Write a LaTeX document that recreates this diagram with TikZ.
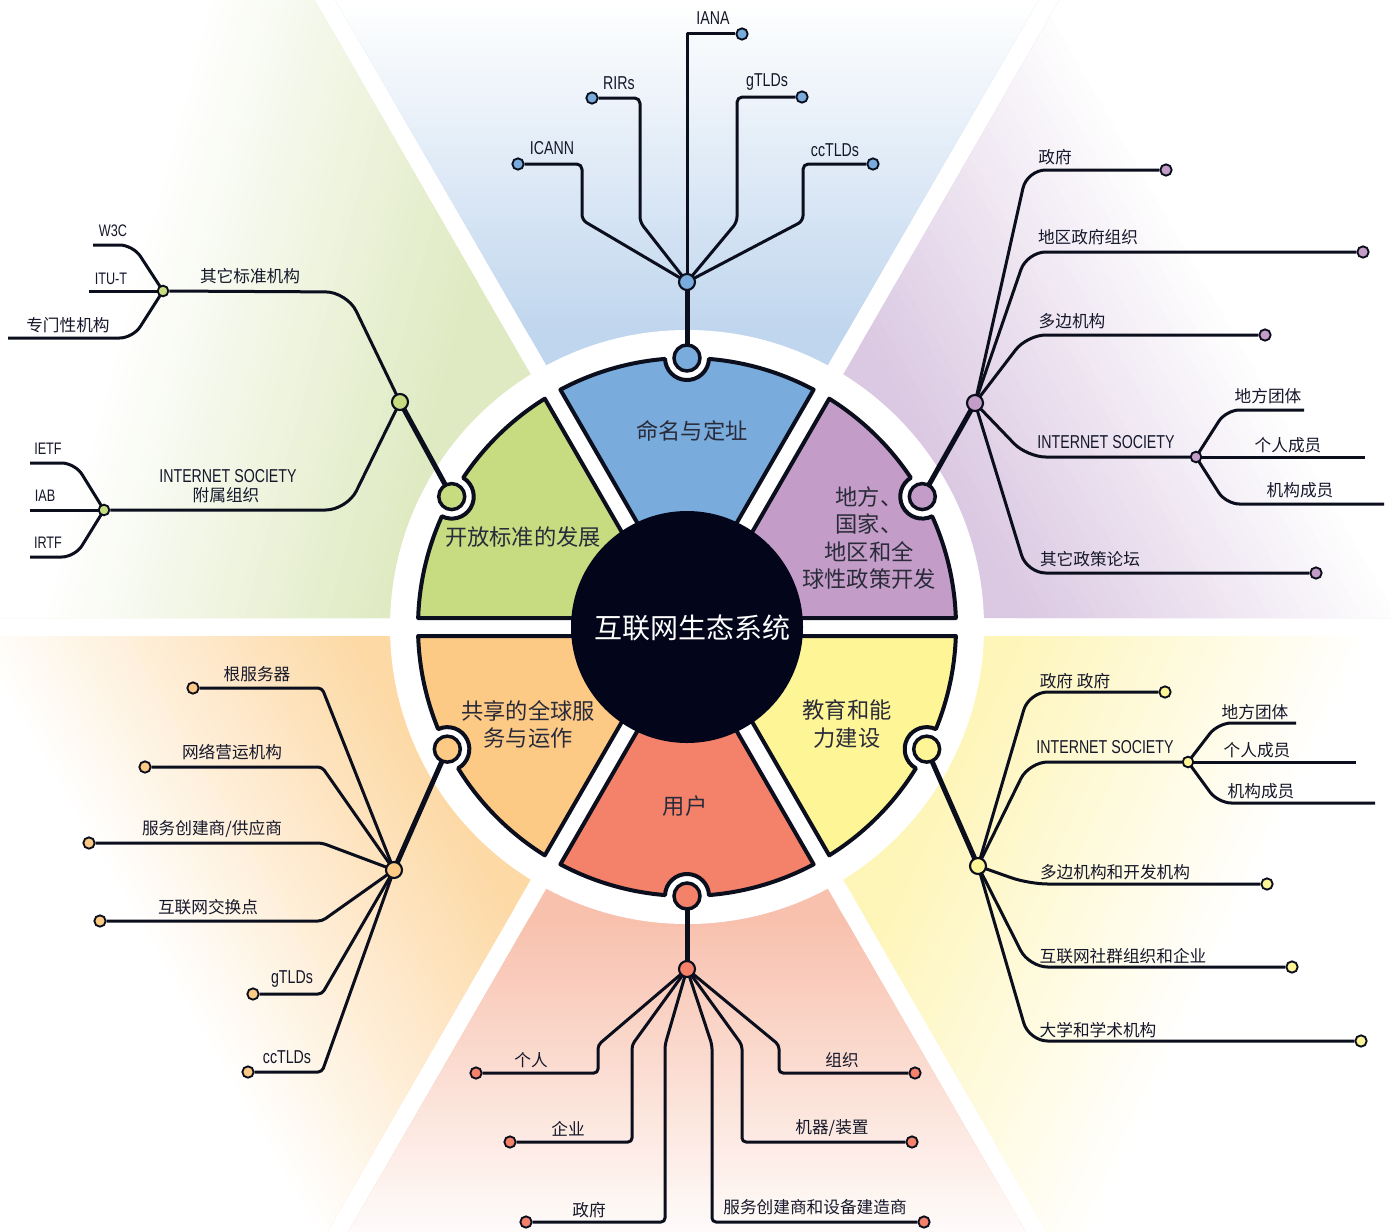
\documentclass[tikz,border=0pt]{standalone}
\usepackage{fontspec}
\newfontfamily\cjk{Noto Sans CJK SC}
\newfontfamily\narrow[FakeStretch=0.76]{Liberation Sans}
\usetikzlibrary{calc}
\definecolor{ink}{HTML}{0B0E1C}
\definecolor{core}{HTML}{03061A}
\definecolor{txt}{HTML}{15172A}
\definecolor{segtxt}{HTML}{2A2B3A}
\definecolor{blueseg}{HTML}{79ACDC}
\definecolor{purpleseg}{HTML}{C39DC7}
\definecolor{greenseg}{HTML}{C7DC80}
\definecolor{orangeseg}{HTML}{FDCA86}
\definecolor{redseg}{HTML}{F4826B}
\definecolor{yellowseg}{HTML}{FEF597}
\definecolor{bgblue}{HTML}{C0D6EE}
\definecolor{bgpurple}{HTML}{DBC8E2}
\definecolor{bggreen}{HTML}{DFEAC2}
\definecolor{bgorange}{HTML}{FDD9A6}
\definecolor{bgred}{HTML}{F8C1AE}
\definecolor{bgyellow}{HTML}{FEF5B8}
\pgfdeclarelayer{back}
\pgfdeclarelayer{lines}
\pgfsetlayers{back,lines,main}
\tikzset{
 br/.style={draw=ink, line width=2.25pt, line join=round},
 stem/.style={draw=ink, line width=3.75pt},
 dot/.style={circle, draw=ink, line width=1.4pt, inner sep=0pt, minimum size=8.5pt},
 hubdot/.style={dot, minimum size=12pt, line width=1.6pt},
 subhub/.style={dot, minimum size=8pt},
 knob/.style={circle, draw=ink, line width=2.6pt, inner sep=0pt, minimum size=19.5pt},
 lab/.style={font=\cjk\fontsize{12.5}{15}\selectfont, text=txt, inner sep=0pt},
 llab/.style={font=\narrow\fontsize{14}{16}\selectfont, text=txt, inner sep=0pt},
 slab/.style={font=\narrow\fontsize{12.5}{14}\selectfont, text=txt, inner sep=0pt},
 seglab/.style={font=\cjk\fontsize{16.7}{20.3}\selectfont, text=segtxt, align=center, inner sep=0pt},
}
\newcommand\wheelseg[4]{%
  \filldraw[fill=#4, draw=ink, line width=3pt, line join=round]
   ({#1+30}:18) -- ({#1+1.917}:269)
   arc[start angle={#1+1.917}, end angle={#3-4.687}, radius=269]
   arc[start angle={#3+267.66}, end angle={#3+92.34}, radius=22]
   arc[start angle={#3+4.687}, end angle={#2-1.917}, radius=269]
   -- cycle;}
% #1 a1, #2 a2, #3 colour, #4 gradient direction
\newcommand\bgsector[4]{%
 \begin{scope}
  \clip ({#1+30}:18) -- ($({#1}:1600)+({#1+90}:9)$) -- ($({#2}:1600)+({#2-90}:9)$) -- cycle;
  \fill[#3] (0,0) circle[radius=1400];
  \foreach \i in {0,...,33} {
    \pgfmathsetmacro\pa{290+\i*10}
    \pgfmathsetmacro\pb{\pa+10.6}
    \pgfmathsetmacro\pc{100-\i*100/33}
    \fill[#3!\pc!white] ($(#4:\pa)+({#4+90}:1100)$) -- ($(#4:\pa)+({#4-90}:1100)$)
      -- ($(#4:\pb)+({#4-90}:1100)$) -- ($(#4:\pb)+({#4+90}:1100)$) -- cycle;
  }
  \fill[white] ($(#4:630)+({#4+90}:1100)$) -- ($(#4:630)+({#4-90}:1100)$)
      -- ($(#4:2000)+({#4-90}:1100)$) -- ($(#4:2000)+({#4+90}:1100)$) -- cycle;
 \end{scope}}
\begin{document}
\begin{tikzpicture}[x=0.75pt, y=-0.75pt]
\begin{pgfonlayer}{back}
\fill[white] (0,0) rectangle (1391,1231);
\end{pgfonlayer}
\useasboundingbox (0,0) rectangle (1391,1231);
\begin{scope}[shift={(687,627)}, x=0.75pt, y=0.75pt]
 \begin{pgfonlayer}{back}
  \begin{scope}
  \clip (-687,-604) rectangle (704,627);
  \bgsector{0}{60}{bgpurple}{30}
  \bgsector{60}{120}{bgblue}{90}
  \bgsector{120}{180}{bggreen}{165}
  \bgsector{180}{240}{bgorange}{210}
  \bgsector{240}{300}{bgred}{270}
  \bgsector{300}{360}{bgyellow}{335}
  \end{scope}
  \fill[white] (0,0) circle[radius=297];
  \wheelseg{0}{60}{29}{purpleseg}
  \wheelseg{60}{120}{90}{blueseg}
  \wheelseg{120}{180}{151}{greenseg}
  \wheelseg{180}{240}{207}{orangeseg}
  \wheelseg{240}{300}{270}{redseg}
  \wheelseg{300}{360}{333}{yellowseg}
  \fill[core] (0,0) circle[radius=116];
 \end{pgfonlayer}
 \node[knob, fill=purpleseg] (pk) at (29:269) {};
 \node[knob, fill=blueseg] (bk) at (90:269) {};
 \node[knob, fill=greenseg] (gk) at (151:269) {};
 \node[knob, fill=orangeseg] (ok) at (207:269) {};
 \node[knob, fill=redseg] (rk) at (270:269) {};
 \node[knob, fill=yellowseg] (yk) at (333:269) {};
\end{scope}

% segment labels
\node[font=\cjk\fontsize{21}{24}\selectfont, text=white, inner sep=0pt] (title) at (692,628) {互联网生态系统};
\node[seglab] (sb) at (692,431) {命名与定址};
\node[seglab] (sg) at (523,537) {开放标准的发展};
\node[seglab] (sp) at (869,538) {地方、\\国家、\\地区和全\\球性政策开发};
\node[seglab] (so) at (528,724) {共享的全球服\\务与运作};
\node[seglab] (sy) at (847,724) {教育和能\\力建设};
\node[seglab] (sr) at (685,806) {用户};

% ---------- blue ----------
\node[hubdot, fill=blueseg] (bh) at (687,282) {};
\node[dot, fill=blueseg] (b1) at (742,34) {};
\node[dot, fill=blueseg] (b2) at (592,98) {};
\node[dot, fill=blueseg] (b3) at (518,164) {};
\node[dot, fill=blueseg] (b4) at (802,97) {};
\node[dot, fill=blueseg] (b5) at (873,164) {};
\node[llab] (lb1) at (713,18) {IANA};
\node[llab] (lb2) at (619,83) {RIRs};
\node[llab] (lb3) at (552,148) {ICANN};
\node[llab] (lb4) at (767,82) {gTLDs};
\node[llab] (lb5) at (835,150) {ccTLDs};

% ---------- green ----------
\node[hubdot, fill=greenseg] (gh) at (400,402) {};
\node[subhub, fill=greenseg] (gs1) at (163,291) {};
\node[subhub, fill=greenseg] (gs2) at (104,510) {};
\coordinate (gw) at (93,245);
\coordinate (gi) at (89,291);
\coordinate (gz) at (8,338);
\coordinate (ge) at (30,463);
\coordinate (ga) at (30,510);
\coordinate (gr) at (30,557);
\node[slab] (lg1) at (113,231) {W3C};
\node[slab] (lg2) at (111,279) {ITU-T};
\node[lab] (lg3) at (68,325) {专门性机构};
\node[lab] (lg4) at (250,276) {其它标准机构};
\node[llab] (lg5) at (228,476) {INTERNET SOCIETY};
\node[lab] (lg6) at (226,495) {附属组织};
\node[slab] (lg7) at (48,449) {IETF};
\node[slab] (lg8) at (45,496) {IAB};
\node[slab] (lg9) at (48,543) {IRTF};

% ---------- purple ----------
\node[hubdot, fill=purpleseg] (ph) at (975,403) {};
\node[dot, fill=purpleseg] (p1) at (1166,170) {};
\node[dot, fill=purpleseg] (p2) at (1363,252) {};
\node[dot, fill=purpleseg] (p3) at (1265,335) {};
\node[subhub, fill=purpleseg] (ps) at (1196,457) {};
\node[dot, fill=purpleseg] (p5) at (1316,573) {};
\coordinate (pa) at (1304,410);
\coordinate (pb) at (1365,457);
\coordinate (pc) at (1384,504);
\node[lab] (lp1) at (1055,157) {政府};
\node[lab] (lp2) at (1088,237) {地区政府组织};
\node[lab] (lp3) at (1072,321) {多边机构};
\node[llab] (lp4) at (1106,442) {INTERNET SOCIETY};
\node[lab] (lp5) at (1268,396) {地方团体};
\node[lab] (lp6) at (1288,445) {个人成员};
\node[lab] (lp7) at (1300,490) {机构成员};
\node[lab] (lp8) at (1090,559) {其它政策论坛};

% ---------- yellow ----------
\node[hubdot, fill=yellowseg] (yh) at (978,866) {};
\node[dot, fill=yellowseg] (y1) at (1165,692) {};
\node[subhub, fill=yellowseg] (ys) at (1188,762) {};
\node[dot, fill=yellowseg] (y3) at (1267,884) {};
\node[dot, fill=yellowseg] (y4) at (1292,967) {};
\node[dot, fill=yellowseg] (y5) at (1361,1041) {};
\coordinate (ya) at (1296,723);
\coordinate (yb) at (1356,762);
\coordinate (yc) at (1375,803);
\node[lab] (ly1) at (1075,681) {政府 政府};
\node[llab] (ly2) at (1105,747) {INTERNET SOCIETY};
\node[lab] (ly3) at (1255,712) {地方团体};
\node[lab] (ly4) at (1257,750) {个人成员};
\node[lab] (ly5) at (1261,791) {机构成员};
\node[lab] (ly6) at (1115,872) {多边机构和开发机构};
\node[lab] (ly7) at (1123,956) {互联网社群组织和企业};
\node[lab] (ly8) at (1098,1030) {大学和学术机构};

% ---------- red ----------
\node[hubdot, fill=redseg] (rh) at (687,969) {};
\node[dot, fill=redseg] (r1) at (476,1073) {};
\node[dot, fill=redseg] (r2) at (510,1142) {};
\node[dot, fill=redseg] (r3) at (526,1222) {};
\node[dot, fill=redseg] (r4) at (924,1222) {};
\node[dot, fill=redseg] (r5) at (912,1142) {};
\node[dot, fill=redseg] (r6) at (915,1073) {};
\node[lab] (lr1) at (531,1060) {个人};
\node[lab] (lr2) at (568,1129) {企业};
\node[lab] (lr3) at (589,1210) {政府};
\node[lab] (lr4) at (815,1207) {服务创建商和设备建造商};
\node[lab] (lr5) at (832,1128) {机器/装置};
\node[lab] (lr6) at (842,1060) {组织};

% ---------- orange ----------
\node[hubdot, fill=orangeseg] (oh) at (394,870) {};
\node[dot, fill=orangeseg] (o1) at (193,688) {};
\node[dot, fill=orangeseg] (o2) at (145,767) {};
\node[dot, fill=orangeseg] (o3) at (89,843) {};
\node[dot, fill=orangeseg] (o4) at (100,921) {};
\node[dot, fill=orangeseg] (o5) at (253,994) {};
\node[dot, fill=orangeseg] (o6) at (248,1072) {};
\node[lab] (lo1) at (257,674) {根服务器};
\node[lab] (lo2) at (232,752) {网络营运机构};
\node[lab] (lo3) at (212,829) {服务创建商/供应商};
\node[lab] (lo4) at (208,907) {互联网交换点};
\node[llab] (lo5) at (292,979) {gTLDs};
\node[llab] (lo6) at (287,1057) {ccTLDs};

\begin{pgfonlayer}{lines}
 % stems
 \draw[stem] (bk.center) -- (bh.center);
 \draw[stem] (gk.center) -- (gh.center);
 \draw[stem] (pk.center) -- (ph.center);
 \draw[stem] (ok.center) -- (oh.center);
 \draw[stem] (rk.center) -- (rh.center);
 \draw[stem] (yk.center) -- (yh.center);
 % blue
 \draw[br] (bh.center) -- (687,34) -- (b1);
 \draw[br, rounded corners=4] (bh.center) -- (640,222) -- (640,98) -- (b2);
 \draw[br, rounded corners=4] (bh.center) -- (582,220) -- (582,164) -- (b3);
 \draw[br, rounded corners=4] (bh.center) -- (737,222) -- (737,97) -- (b4);
 \draw[br, rounded corners=4] (bh.center) -- (803,221) -- (803,164) -- (b5);
 % green
 \draw[br, rounded corners=16] (gh.center) -- (347,292) -- (gs1);
 \draw[br, rounded corners=16] (gh.center) -- (347,510) -- (gs2);
 \draw[br, rounded corners=10] (gs1.center) -- (133,245) -- (gw);
 \draw[br] (gs1.center) -- (gi);
 \draw[br, rounded corners=10] (gs1.center) -- (133,338) -- (gz);
 \draw[br, rounded corners=10] (gs2.center) -- (75,463) -- (ge);
 \draw[br] (gs2.center) -- (ga);
 \draw[br, rounded corners=10] (gs2.center) -- (75,557) -- (gr);
 % purple
 \draw[br, rounded corners=14] (ph.center) -- (1027,170) -- (p1);
 \draw[br, rounded corners=14] (ph.center) -- (1027,252) -- (p2);
 \draw[br, rounded corners=14] (ph.center) -- (1027,335) -- (p3);
 \draw[br, rounded corners=14] (ph.center) -- (1027,457) -- (ps);
 \draw[br, rounded corners=14] (ph.center) -- (1027,573) -- (p5);
 \draw[br, rounded corners=10] (ps.center) -- (1226,410) -- (pa);
 \draw[br] (ps.center) -- (pb);
 \draw[br, rounded corners=10] (ps.center) -- (1226,504) -- (pc);
 % yellow
 \draw[br, rounded corners=14] (yh.center) -- (1029,692) -- (y1);
 \draw[br, rounded corners=14] (yh.center) -- (1029,762) -- (ys);
 \draw[br, rounded corners=14] (yh.center) -- (1029,884) -- (y3);
 \draw[br, rounded corners=14] (yh.center) -- (1029,967) -- (y4);
 \draw[br, rounded corners=14] (yh.center) -- (1029,1041) -- (y5);
 \draw[br, rounded corners=10] (ys.center) -- (1218,723) -- (ya);
 \draw[br] (ys.center) -- (yb);
 \draw[br, rounded corners=10] (ys.center) -- (1218,803) -- (yc);
 % red
 \draw[br, rounded corners=3] (rh.center) -- (598,1045) -- (598,1073) -- (r1);
 \draw[br, rounded corners=3] (rh.center) -- (632,1045) -- (632,1142) -- (r2);
 \draw[br, rounded corners=3] (rh.center) -- (665,1045) -- (665,1222) -- (r3);
 \draw[br, rounded corners=3] (rh.center) -- (712,1045) -- (712,1222) -- (r4);
 \draw[br, rounded corners=3] (rh.center) -- (742,1045) -- (742,1142) -- (r5);
 \draw[br, rounded corners=3] (rh.center) -- (779,1045) -- (779,1073) -- (r6);
 % orange
 \draw[br, rounded corners=3] (oh.center) -- (322,688) -- (o1);
 \draw[br, rounded corners=3] (oh.center) -- (322,767) -- (o2);
 \draw[br, rounded corners=3] (oh.center) -- (322,843) -- (o3);
 \draw[br, rounded corners=3] (oh.center) -- (322,921) -- (o4);
 \draw[br, rounded corners=3] (oh.center) -- (322,994) -- (o5);
 \draw[br, rounded corners=3] (oh.center) -- (322,1072) -- (o6);
\end{pgfonlayer}
\end{tikzpicture}
\end{document}
